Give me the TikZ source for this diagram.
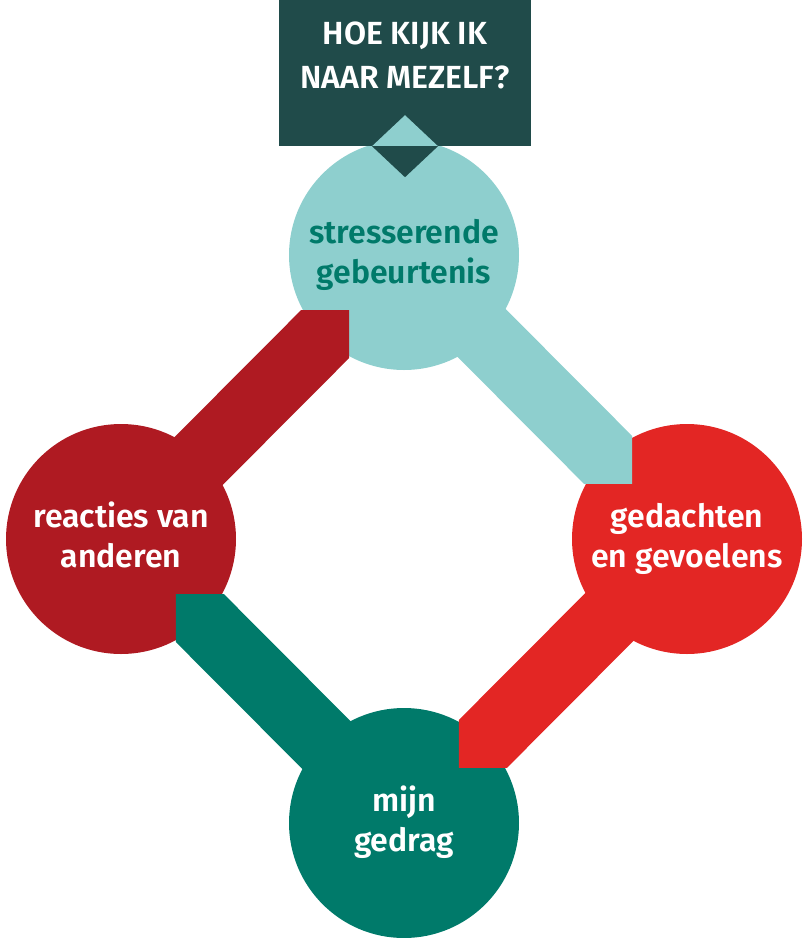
\documentclass[tikz,border=0pt]{standalone}
\usepackage{fontspec}
\setmainfont{Fira Sans}
\newfontfamily\fsb{Fira Sans}[UprightFont={* SemiBold}]
\usetikzlibrary{calc}
\definecolor{boxdark}{HTML}{204B4A}
\definecolor{lteal}{HTML}{8ECFCE}
\definecolor{cred}{HTML}{E32624}
\definecolor{dred}{HTML}{AF1A22}
\definecolor{cteal}{HTML}{007A6A}
\tikzset{
  circ/.style={circle, draw=none, minimum size=230pt, inner sep=0pt},
  lbl/.style={anchor=base, inner sep=0pt, font=\fsb\fontsize{32}{40}\selectfont, text=white},
  qlbl/.style={anchor=base, inner sep=0pt, font=\fsb\fontsize{32}{44}\selectfont, text=white},
  qbox/.style={rectangle, draw=none, fill=boxdark, minimum width=252pt, minimum height=146pt, inner sep=0pt},
}
\begin{document}
\begin{tikzpicture}[x=1pt,y=-1pt]
\useasboundingbox (0,0) rectangle (806,938);
% circles
\node[circ, fill=lteal] (top) at (404,255) {};
\node[circ, fill=cred]  (rgt) at (687,539) {};
\node[circ, fill=cteal] (bot) at (404,823) {};
\node[circ, fill=dred]  (lft) at (121,539) {};
% band tips
\coordinate (t1) at ($(top)!0.8057!(rgt)$);
\coordinate (t2) at ($(rgt)!0.8057!(bot)$);
\coordinate (t3) at ($(bot)!0.8057!(lft)$);
\coordinate (t4) at ($(lft)!0.8057!(top)$);
% bands
\fill[lteal] ($(top)+(-48,0)$) -- ($(top)+(0,-48)$) -- ($(t1)+(0,-48)$) -- (t1) -- ($(t1)+(-48,0)$) -- cycle;
\fill[cred]  ($(rgt)+(48,0)$) -- ($(rgt)+(0,-48)$) -- ($(t2)+(0,-48)$) -- (t2) -- ($(t2)+(48,0)$) -- cycle;
\fill[cteal] ($(bot)+(48,0)$) -- ($(bot)+(0,48)$) -- ($(t3)+(0,48)$) -- (t3) -- ($(t3)+(48,0)$) -- cycle;
\fill[dred]  ($(lft)+(-48,0)$) -- ($(lft)+(0,48)$) -- ($(t4)+(0,48)$) -- (t4) -- ($(t4)+(-48,0)$) -- cycle;
% question box
\node[qbox] (q) at (405,73) {};
\fill[lteal] ($(q.south)+(-33,0)$) -- ($(q.south)+(0,-31)$) -- ($(q.south)+(33,0)$) -- cycle;
\fill[boxdark] ($(q.south)+(-33,0)$) -- ($(q.south)+(0,31)$) -- ($(q.south)+(33,0)$) -- cycle;
\node[qlbl] (q1) at ($(q.north)+(0,45)$) {HOE KIJK IK};
\node[qlbl] (q2) at ($(q.north)+(0,89)$) {NAAR MEZELF?};
% labels
\node[lbl, text=cteal] (top1) at ($(top)+(0,-12)$) {stresserende};
\node[lbl, text=cteal] (top2) at ($(top)+(0,28)$) {gebeurtenis};
\node[lbl] (rgt1) at ($(rgt)+(0,-12)$) {gedachten};
\node[lbl] (rgt2) at ($(rgt)+(0,28)$) {en gevoelens};
\node[lbl] (bot1) at ($(bot)+(0,-12)$) {mijn};
\node[lbl] (bot2) at ($(bot)+(0,28)$) {gedrag};
\node[lbl] (lft1) at ($(lft)+(0,-12)$) {reacties van};
\node[lbl] (lft2) at ($(lft)+(0,28)$) {anderen};
\end{tikzpicture}
\end{document}
